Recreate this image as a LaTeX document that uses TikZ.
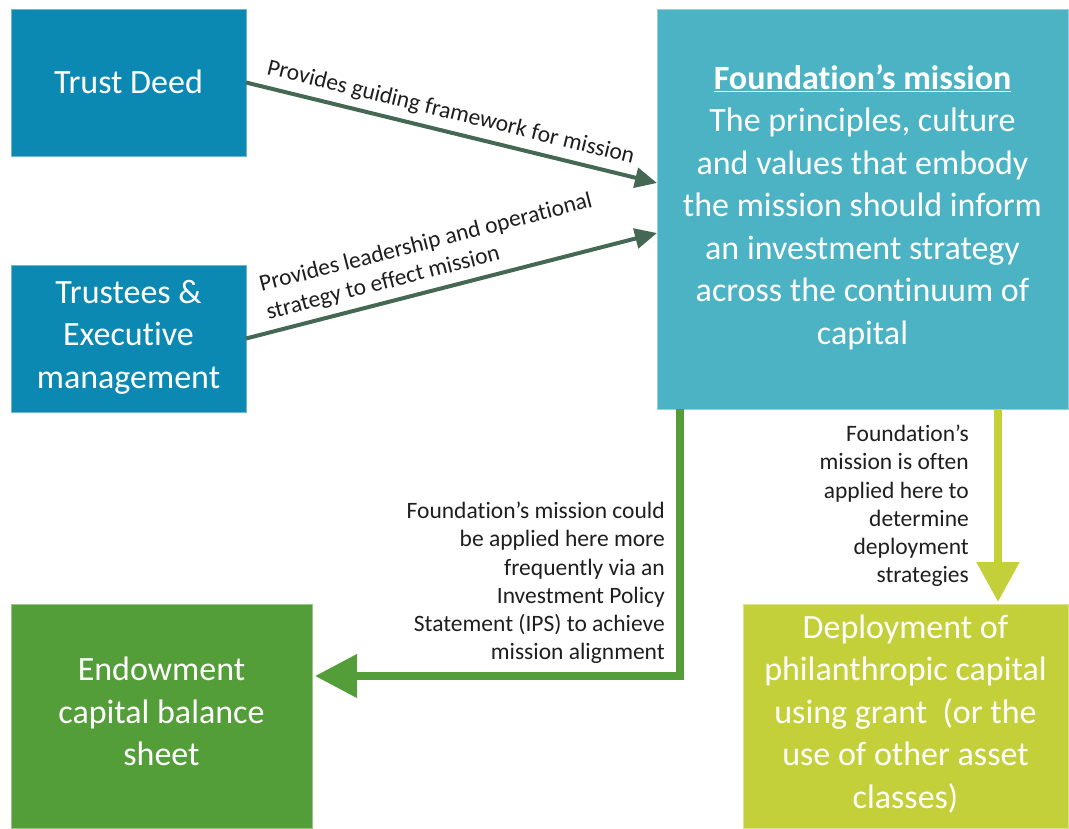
\documentclass[tikz,border=0pt]{standalone}
\usepackage{fontspec}
\setmainfont{Carlito}[Ligatures=NoCommon]
\usetikzlibrary{arrows.meta}
\definecolor{tdblue}{RGB}{12,137,179}
\definecolor{misteal}{RGB}{75,179,196}
\definecolor{endgreen}{RGB}{84,158,57}
\definecolor{deplime}{RGB}{196,208,58}
\definecolor{arrowdark}{RGB}{69,104,84}
\definecolor{lbltext}{RGB}{30,30,30}
\newcommand\boxstrut{\rule[-9pt]{0pt}{39pt}}
\begin{document}
\begin{tikzpicture}[x=1pt,y=-1pt,
  box/.style={rectangle, text=white, align=center, inner sep=0pt, outer sep=0pt,
    font=\fontsize{34}{42.5}\selectfont, line width=0.8pt,
    execute at begin node=\boxstrut, execute at end node=\boxstrut},
  lbl/.style={font=\fontsize{23.5}{28.2}\selectfont, text=lbltext, inner sep=0pt},
  darrow/.style={draw=arrowdark, line width=4pt, -{Triangle[length=22pt,width=20pt]}},
  garrow/.style={draw=endgreen, line width=7.5pt, -{Triangle[length=42pt,width=42pt]}},
  larrow/.style={draw=deplime, line width=8.5pt, -{Triangle[length=40pt,width=41pt]}},
]
\useasboundingbox (0,0) rectangle (1069,828);

\node[box, fill=tdblue, draw=tdblue!60!white, minimum width=235pt, minimum height=147pt]
  (td) at (128.5,82.5) {Trust Deed};
\node[box, fill=tdblue, draw=tdblue!60!white, minimum width=235pt, minimum height=147pt]
  (tr) at (128.5,338.5) {Trustees \&\\Executive\\management};
\node[box, fill=misteal, draw=misteal!60!white, minimum width=411pt, minimum height=400pt]
  (mis) at (862.5,209) {\textbf{\underline{Foundation’s mission}}\\The principles, culture\\and values that embody\\the mission should inform\\an investment strategy\\across the continuum of\\capital};
\node[box, fill=endgreen, draw=endgreen!60!white, minimum width=301pt, minimum height=224pt]
  (endow) at (161.5,716) {Endowment\\capital balance\\sheet};
\node[box, fill=deplime, draw=deplime!60!white, minimum width=325pt, minimum height=224pt]
  (dep) at (905.5,716) {Deployment of\\philanthropic capital\\using grant~ (or the\\use of other asset\\classes)};

\draw[darrow] (td.east) -- node[lbl, sloped, anchor=south west, pos=0.037, inner ysep=7pt]
  {Provides guiding framework for mission} ([yshift=26pt]mis.west);
\draw[darrow] (tr.east) -- node[lbl, sloped, anchor=south west, align=left, pos=0.058, inner ysep=7pt]
  {Provides leadership and operational\\strategy to effect mission} ([yshift=-24pt]mis.west);

\draw[garrow] ([xshift=-182.5pt]mis.south) |- ([xshift=3pt,yshift=40pt]endow.east);
\draw[larrow] ([xshift=135.5pt]mis.south) -- ([xshift=135.5pt,yshift=2pt]mis.south |- dep.north);

\node[lbl, align=right, anchor=north east] (gl) at (665,502)
  {Foundation’s mission could\\be applied here more\\frequently via an\\Investment Policy\\Statement (IPS) to achieve\\mission alignment};
\node[lbl, align=right, anchor=north east] (ll) at (969,425)
  {Foundation’s\\mission is often\\applied here to\\determine\\deployment\\strategies};
\end{tikzpicture}
\end{document}
